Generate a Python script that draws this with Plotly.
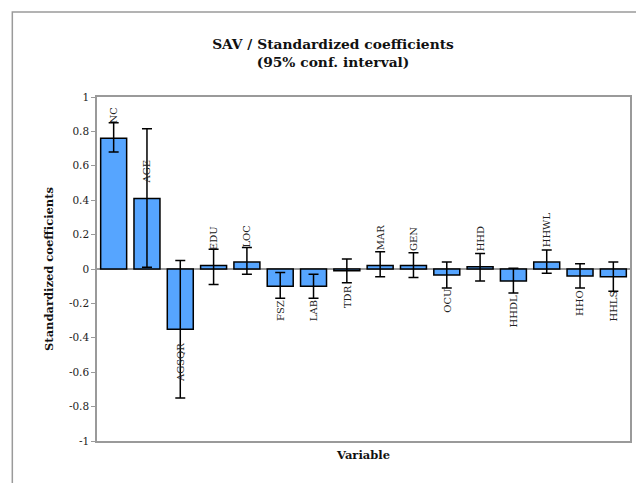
import plotly.graph_objects as go

categories = ["NC", "AGE", "AGSQR", "EDU", "LOC", "FSZ", "LAB", "TDR", "MAR", "GEN",
              "OCU", "HHD", "HHDL", "HHWL", "HHO", "HHLS"]
values = [0.76, 0.41, -0.35, 0.02, 0.04, -0.10, -0.10, -0.01, 0.02, 0.02,
          -0.035, 0.013, -0.07, 0.04, -0.04, -0.045]
upper = [0.85, 0.815, 0.05, 0.115, 0.125, -0.02, -0.03, 0.058, 0.10, 0.095,
         0.04, 0.09, 0.005, 0.11, 0.03, 0.04]
lower = [0.68, 0.01, -0.75, -0.09, -0.03, -0.17, -0.17, -0.08, -0.045, -0.05,
         -0.11, -0.07, -0.14, -0.025, -0.11, -0.13]
y_ticks = [1, 0.8, 0.6, 0.4, 0.2, 0, -0.2, -0.4, -0.6, -0.8, -1]

err_plus = [u - v for u, v in zip(upper, values)]
err_minus = [v - l for v, l in zip(values, lower)]

SERIF = "DejaVu Serif"
GRID = "#9a9a9a"

# page body has an 8px margin, so work in coordinates shifted by 8px
OFF = 8
W, H = 644 - OFF, 483 - OFF
L, T = 97 - OFF, 97 - OFF
R = W - (632 - OFF)
B = H - (441 - OFF)
pw, ph = W - L - R, H - T - B

def px_x(p):
    return (p - OFF - L) / pw

def px_y(p):
    return 1 - (p - OFF - T) / ph

fig = go.Figure()
fig.add_trace(go.Bar(
    x=categories, y=values,
    marker=dict(color="#56A5FF", line=dict(color="black", width=1.5)),
    error_y=dict(type="data", symmetric=False, array=err_plus, arrayminus=err_minus,
                 color="black", thickness=1.5, width=5),
    showlegend=False,
))

for c, v in zip(categories, values):
    pos = v >= 0
    fig.add_annotation(
        x=c, y=v, text=c, showarrow=False, textangle=-90,
        yanchor="bottom" if pos else "top", xanchor="center",
        yshift=13 if pos else -12,
        font=dict(family=SERIF, size=10, color="#222"),
    )

# outer chart border (extends past canvas on right and bottom)
fig.add_shape(type="rect", xref="paper", yref="paper",
              x0=px_x(12), x1=px_x(680), y0=px_y(520), y1=px_y(12),
              line=dict(color=GRID, width=1.5), layer="below")

fig.update_layout(
    width=W, height=H,
    margin=dict(l=L, r=R, t=T, b=B),
    paper_bgcolor="white", plot_bgcolor="white",
    bargap=0.22,
    title=dict(text="<b>SAV / Standardized coefficients<br>(95% conf. interval)</b>",
               x=(333 - OFF) / W, xanchor="center",
               y=1 - (49 - OFF) / H, yanchor="middle",
               font=dict(family=SERIF, size=13.8, color="#111")),
    xaxis=dict(showticklabels=False, ticks="", showgrid=False,
               showline=True, linecolor=GRID, linewidth=1.5, mirror=True,
               title=dict(text="<b>Variable</b>", standoff=9,
                          font=dict(family=SERIF, size=11.5, color="#111"))),
    yaxis=dict(range=[-1, 1], tickvals=y_ticks, ticktext=[str(t) for t in y_ticks],
               ticks="outside", ticklen=4, tickcolor=GRID, tickwidth=1,
               showgrid=False, showline=True, linecolor=GRID, linewidth=1.5, mirror=True,
               zeroline=True, zerolinecolor=GRID, zerolinewidth=1.5,
               tickfont=dict(family=SERIF, size=10.5, color="#222"),
               title=dict(text="<b>Standardized coefficients</b>", standoff=13,
                          font=dict(family=SERIF, size=11.5, color="#111"))),
)

fig.write_html("out.html")
